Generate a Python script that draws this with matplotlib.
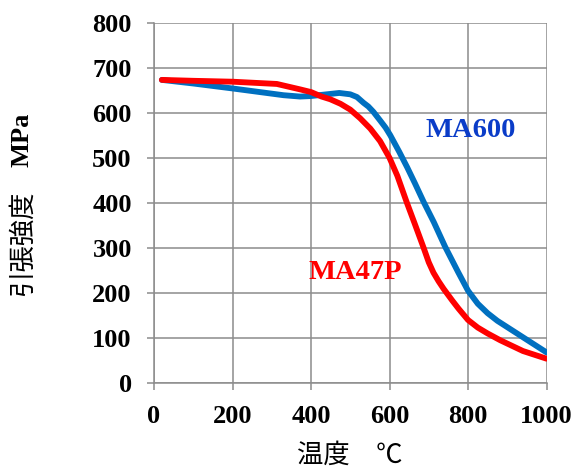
import matplotlib
matplotlib.use("Agg")
import matplotlib.pyplot as plt

# Data
ma47p_temp = [20, 100, 200, 313, 372, 400, 427, 449, 475, 500, 525, 551, 576, 600,
              620, 644, 665, 687, 700, 712, 725, 738, 760, 776, 800, 825, 850, 882,
              940, 1000]
ma47p_ts = [673, 671, 669, 664, 652, 646, 636, 630, 620, 607, 588, 565, 537, 500,
            460, 401, 352, 300, 268, 245, 226, 209, 183, 165, 140, 123, 110, 95,
            71, 54]

ma600_temp = [20, 100, 200, 330, 372, 398, 440, 472, 500, 517, 534, 546, 559, 576,
              590, 602, 625, 645, 665, 687, 713, 742, 775, 800, 825, 850, 875, 900,
              950, 1000]
ma600_ts = [673, 665, 654, 639, 636, 637, 641, 644, 641, 635, 622, 614, 602, 583,
            567, 550, 513, 479, 443, 402, 357, 302, 246, 205, 176, 155, 138, 124,
            96, 68]

x_ticks = [0, 200, 400, 600, 800, 1000]
y_ticks = [0, 100, 200, 300, 400, 500, 600, 700, 800]

W, H = 577, 473
fig = plt.figure(figsize=(W / 100, H / 100), dpi=100)
ax = fig.add_axes([154 / W, 1 - 383 / H, (546.5 - 154) / W, (383 - 22.7) / H])

grid_c = "#8c8c8c"
ax.plot(ma600_temp, ma600_ts, color="#0070C0", lw=4.2, solid_capstyle="round",
        solid_joinstyle="round", zorder=3)
ax.plot(ma47p_temp, ma47p_ts, color="#FF0000", lw=4.2, solid_capstyle="round",
        solid_joinstyle="round", zorder=4)

ax.set_xlim(0, 1000)
ax.set_ylim(0, 800)
ax.set_xticks(x_ticks)
ax.set_yticks(y_ticks)
ax.grid(True, color=grid_c, lw=1.1)
ax.set_axisbelow(True)
for s in ["top", "right"]:
    ax.spines[s].set_visible(False)
for s in ["left", "bottom"]:
    ax.spines[s].set_color(grid_c)
    ax.spines[s].set_linewidth(1.1)
ax.tick_params(direction="out", length=5, width=1.1, color=grid_c, pad=11,
               labelsize=19)
for lab in ax.get_xticklabels() + ax.get_yticklabels():
    lab.set_fontfamily("Liberation Serif")
    lab.set_fontweight("bold")

ax.text(808, 561, "MA600", color="#0A3CC8", fontsize=20.5, fontweight="bold",
        family="Liberation Serif", ha="center", va="center", zorder=5)
ax.text(512, 245, "MA47P", color="#FF0000", fontsize=20.5, fontweight="bold",
        family="Liberation Serif", ha="center", va="center", zorder=5)

# axis labels
fig.text(350 / W, 1 - 455 / H, "温度　℃", family=["Noto Sans CJK JP", "DejaVu Sans"],
         fontsize=19, ha="center", va="center")
fig.text(22 / W, 1 - 243 / H, "引張強度", family=["Noto Sans CJK JP", "DejaVu Sans"],
         fontsize=19, ha="center", va="center", rotation=90)
fig.text(22 / W, 1 - 140 / H, "MPa", family="Liberation Serif", fontweight="bold",
         fontsize=19, ha="center", va="center", rotation=90)

fig.savefig("out.png", dpi=100)
